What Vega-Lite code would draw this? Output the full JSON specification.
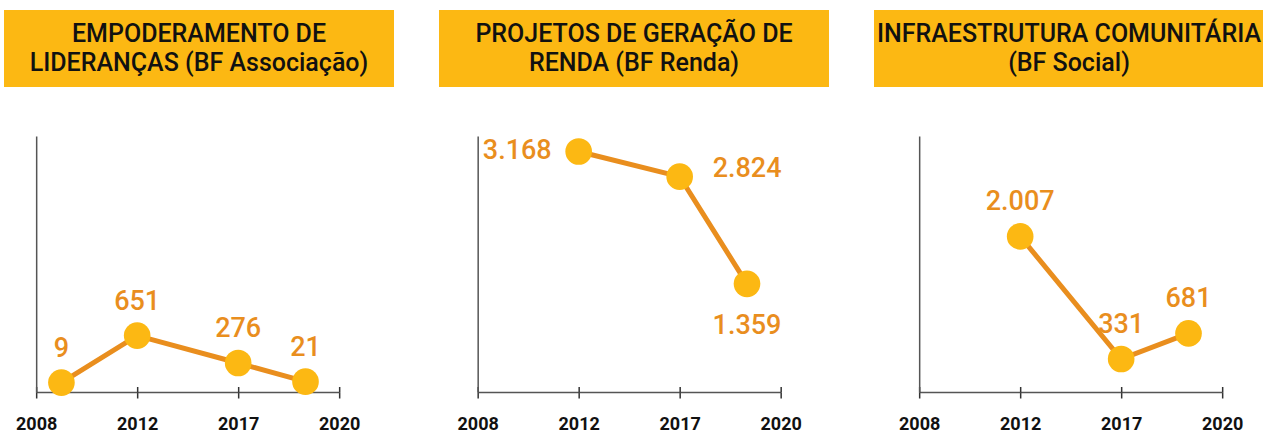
{
  "$schema": "https://vega.github.io/schema/vega-lite/v6.json",
  "padding": {"left": 4, "top": 10, "right": 0, "bottom": 0},
  "background": "white",
  "config": {
    "view": {"stroke": null},
    "font": "Roboto",
    "locale": {"number": {"decimal": ",", "thousands": ".", "grouping": [3], "currency": ["R$", ""]}},
    "axisY": {"title": null, "grid": false, "ticks": false, "labels": false, "domain": true, "domainColor": "#555555", "domainWidth": 1.5}
  },
  "datasets": {
    "series": [
      {"panel": 1, "year": 2009, "value": 9},
      {"panel": 1, "year": 2012, "value": 651},
      {"panel": 1, "year": 2017, "value": 276},
      {"panel": 1, "year": 2019, "value": 21},
      {"panel": 2, "year": 2012, "value": 3168},
      {"panel": 2, "year": 2017, "value": 2824},
      {"panel": 2, "year": 2019, "value": 1359},
      {"panel": 3, "year": 2012, "value": 2007},
      {"panel": 3, "year": 2017, "value": 331},
      {"panel": 3, "year": 2019, "value": 681}
    ],
    "titles": [
      {"panel": 1, "title": "EMPODERAMENTO DE\nLIDERANÇAS (BF Associação)"},
      {"panel": 2, "title": "PROJETOS DE GERAÇÃO DE\nRENDA (BF Renda)"},
      {"panel": 3, "title": "INFRAESTRUTURA COMUNITÁRIA\n(BF Social)"}
    ]
  },
  "vconcat": [
    {
      "data": {"name": "titles"},
      "spacing": 45,
      "hconcat": [
        {
          "width": 390, "height": 77,
          "view": {"fill": "#FCB813", "stroke": null},
          "transform": [{"filter": "datum.panel == 1"}],
          "mark": {"type": "text", "fontSize": 25, "fontWeight": 500, "color": "#111111", "lineBreak": "\n", "lineHeight": 29, "align": "center", "baseline": "middle", "dy": -14.5},
          "encoding": {"text": {"field": "title"}}
        },
        {
          "width": 390, "height": 77,
          "view": {"fill": "#FCB813", "stroke": null},
          "transform": [{"filter": "datum.panel == 2"}],
          "mark": {"type": "text", "fontSize": 25, "fontWeight": 500, "color": "#111111", "lineBreak": "\n", "lineHeight": 29, "align": "center", "baseline": "middle", "dy": -14.5},
          "encoding": {"text": {"field": "title"}}
        },
        {
          "width": 401, "height": 77,
          "view": {"fill": "#FCB813", "stroke": null},
          "transform": [{"filter": "datum.panel == 3"}],
          "mark": {"type": "text", "fontSize": 25, "fontWeight": 500, "color": "#111111", "lineBreak": "\n", "lineHeight": 29, "align": "center", "baseline": "middle", "dy": -14.5, "dx": -5.5},
          "encoding": {"text": {"field": "title"}}
        }
      ]
    },
    {
      "data": {"name": "series"},
      "spacing": 96.5,
      "hconcat": [
        {
          "width": 303, "height": 256,
          "transform": [{"filter": "datum.panel == 1"}],
          "resolve": {"axis": {"x": "independent"}},
          "layer": [
            {
              "mark": {"type": "line", "color": "#E98E1E", "strokeWidth": 5},
              "encoding": {
                "x": {"field": "year", "type": "quantitative", "scale": {"domain": [2008, 2012, 2017, 2020], "range": [0, 101, 202, 303], "zero": false, "nice": false},
                  "axis": {"values": [2008, 2012, 2017, 2020], "format": "d", "title": null, "grid": false, "tickSize": 6, "tickWidth": 1.5, "tickColor": "#333333", "domainColor": "#555555", "domainWidth": 1.5, "labelFontSize": 18, "labelFontWeight": "bold", "labelColor": "#111111", "labelPadding": 17, "labelFlush": false, "labelOverlap": false}},
                "y": {"field": "value", "type": "quantitative", "scale": {"domain": [-120, 3380], "zero": false, "nice": false}}
              }
            },
            {
              "mark": {"type": "circle", "size": 710, "color": "#FCB813", "opacity": 1},
              "encoding": {
                "x": {"field": "year", "type": "quantitative", "scale": {"domain": [2008, 2012, 2017, 2020], "range": [0, 101, 202, 303], "zero": false, "nice": false},
                  "axis": {"orient": "bottom", "values": [2008, 2012, 2017, 2020], "title": null, "grid": false, "labels": false, "domain": false, "tickSize": -5.5, "tickWidth": 1.5, "tickColor": "#333333"}},
                "y": {"field": "value", "type": "quantitative", "scale": {"domain": [-120, 3380], "zero": false, "nice": false}}
              }
            },
            {
              "mark": {"type": "text", "fontSize": 27, "fontWeight": 500, "color": "#E98E1E", "align": "center", "baseline": "middle", "dy": -34},
              "encoding": {
                "x": {"field": "year", "type": "quantitative", "scale": {"domain": [2008, 2012, 2017, 2020], "range": [0, 101, 202, 303], "zero": false, "nice": false}, "axis": null},
                "y": {"field": "value", "type": "quantitative", "scale": {"domain": [-120, 3380], "zero": false, "nice": false}},
                "text": {"field": "value", "type": "quantitative", "format": ",d"}
              }
            }
          ]
        },
        {
          "width": 303, "height": 256,
          "transform": [{"filter": "datum.panel == 2"}],
          "resolve": {"axis": {"x": "independent"}},
          "layer": [
            {
              "mark": {"type": "line", "color": "#E98E1E", "strokeWidth": 5},
              "encoding": {
                "x": {"field": "year", "type": "quantitative", "scale": {"domain": [2008, 2012, 2017, 2020], "range": [0, 101, 202, 303], "zero": false, "nice": false},
                  "axis": {"values": [2008, 2012, 2017, 2020], "format": "d", "title": null, "grid": false, "tickSize": 6, "tickWidth": 1.5, "tickColor": "#333333", "domainColor": "#555555", "domainWidth": 1.5, "labelFontSize": 18, "labelFontWeight": "bold", "labelColor": "#111111", "labelPadding": 17, "labelFlush": false, "labelOverlap": false}},
                "y": {"field": "value", "type": "quantitative", "scale": {"domain": [-120, 3380], "zero": false, "nice": false}}
              }
            },
            {
              "mark": {"type": "circle", "size": 710, "color": "#FCB813", "opacity": 1},
              "encoding": {
                "x": {"field": "year", "type": "quantitative", "scale": {"domain": [2008, 2012, 2017, 2020], "range": [0, 101, 202, 303], "zero": false, "nice": false},
                  "axis": {"orient": "bottom", "values": [2008, 2012, 2017, 2020], "title": null, "grid": false, "labels": false, "domain": false, "tickSize": -5.5, "tickWidth": 1.5, "tickColor": "#333333"}},
                "y": {"field": "value", "type": "quantitative", "scale": {"domain": [-120, 3380], "zero": false, "nice": false}}
              }
            },
            {
              "transform": [{"filter": "datum.year == 2012"}],
              "mark": {"type": "text", "fontSize": 27, "fontWeight": 500, "color": "#E98E1E", "align": "right", "baseline": "middle", "dx": -27, "dy": -1},
              "encoding": {
                "x": {"field": "year", "type": "quantitative", "scale": {"domain": [2008, 2012, 2017, 2020], "range": [0, 101, 202, 303], "zero": false, "nice": false}, "axis": null},
                "y": {"field": "value", "type": "quantitative", "scale": {"domain": [-120, 3380], "zero": false, "nice": false}},
                "text": {"field": "value", "type": "quantitative", "format": ",d"}
              }
            },
            {
              "transform": [{"filter": "datum.year == 2017"}],
              "mark": {"type": "text", "fontSize": 27, "fontWeight": 500, "color": "#E98E1E", "align": "left", "baseline": "middle", "dx": 33, "dy": -7.5},
              "encoding": {
                "x": {"field": "year", "type": "quantitative", "scale": {"domain": [2008, 2012, 2017, 2020], "range": [0, 101, 202, 303], "zero": false, "nice": false}, "axis": null},
                "y": {"field": "value", "type": "quantitative", "scale": {"domain": [-120, 3380], "zero": false, "nice": false}},
                "text": {"field": "value", "type": "quantitative", "format": ",d"}
              }
            },
            {
              "transform": [{"filter": "datum.year == 2019"}],
              "mark": {"type": "text", "fontSize": 27, "fontWeight": 500, "color": "#E98E1E", "align": "center", "baseline": "middle", "dy": 42},
              "encoding": {
                "x": {"field": "year", "type": "quantitative", "scale": {"domain": [2008, 2012, 2017, 2020], "range": [0, 101, 202, 303], "zero": false, "nice": false}, "axis": null},
                "y": {"field": "value", "type": "quantitative", "scale": {"domain": [-120, 3380], "zero": false, "nice": false}},
                "text": {"field": "value", "type": "quantitative", "format": ",d"}
              }
            }
          ]
        },
        {
          "width": 303, "height": 256,
          "transform": [{"filter": "datum.panel == 3"}],
          "resolve": {"axis": {"x": "independent"}},
          "layer": [
            {
              "mark": {"type": "line", "color": "#E98E1E", "strokeWidth": 5},
              "encoding": {
                "x": {"field": "year", "type": "quantitative", "scale": {"domain": [2008, 2012, 2017, 2020], "range": [0, 101, 202, 303], "zero": false, "nice": false},
                  "axis": {"values": [2008, 2012, 2017, 2020], "format": "d", "title": null, "grid": false, "tickSize": 6, "tickWidth": 1.5, "tickColor": "#333333", "domainColor": "#555555", "domainWidth": 1.5, "labelFontSize": 18, "labelFontWeight": "bold", "labelColor": "#111111", "labelPadding": 17, "labelFlush": false, "labelOverlap": false}},
                "y": {"field": "value", "type": "quantitative", "scale": {"domain": [-120, 3380], "zero": false, "nice": false}}
              }
            },
            {
              "mark": {"type": "circle", "size": 710, "color": "#FCB813", "opacity": 1},
              "encoding": {
                "x": {"field": "year", "type": "quantitative", "scale": {"domain": [2008, 2012, 2017, 2020], "range": [0, 101, 202, 303], "zero": false, "nice": false},
                  "axis": {"orient": "bottom", "values": [2008, 2012, 2017, 2020], "title": null, "grid": false, "labels": false, "domain": false, "tickSize": -5.5, "tickWidth": 1.5, "tickColor": "#333333"}},
                "y": {"field": "value", "type": "quantitative", "scale": {"domain": [-120, 3380], "zero": false, "nice": false}}
              }
            },
            {
              "mark": {"type": "text", "fontSize": 27, "fontWeight": 500, "color": "#E98E1E", "align": "center", "baseline": "middle", "dy": -34},
              "encoding": {
                "x": {"field": "year", "type": "quantitative", "scale": {"domain": [2008, 2012, 2017, 2020], "range": [0, 101, 202, 303], "zero": false, "nice": false}, "axis": null},
                "y": {"field": "value", "type": "quantitative", "scale": {"domain": [-120, 3380], "zero": false, "nice": false}},
                "text": {"field": "value", "type": "quantitative", "format": ",d"}
              }
            }
          ]
        }
      ]
    }
  ],
  "spacing": 49,
  "center": true
}
